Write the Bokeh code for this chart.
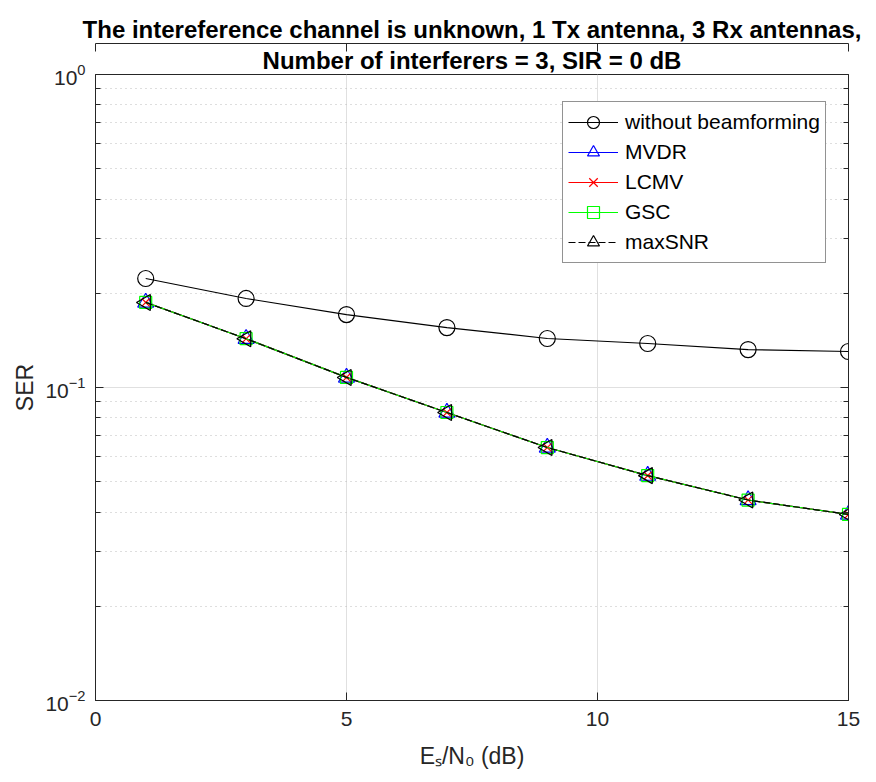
import math
from bokeh.plotting import figure
from bokeh.models import (LogAxis, LinearAxis, Legend, LegendItem, Title,
                          FixedTicker, LogTickFormatter, CustomJSTickFormatter, Range1d)
from bokeh.embed import file_html
from bokeh.resources import INLINE

# ---------------- data ----------------
snr_db = [1, 3, 5, 7, 9, 11, 13, 15]
ser_without_bf = [0.223, 0.1925, 0.171, 0.1554, 0.1434, 0.1382, 0.1322, 0.1303]
ser_mvdr = [0.187, 0.1432, 0.1077, 0.0832, 0.0643, 0.0523, 0.0437, 0.0393]
ser_lcmv = [0.187, 0.1432, 0.1077, 0.0832, 0.0643, 0.0523, 0.0437, 0.0393]
ser_gsc = [0.187, 0.1432, 0.1077, 0.0832, 0.0643, 0.0523, 0.0437, 0.0393]
ser_maxsnr = [0.187, 0.1432, 0.1077, 0.0832, 0.0643, 0.0523, 0.0437, 0.0393]
x_ticks = [0, 5, 10, 15]
y_decades = [-2, -1, 0]
title_lines = ["The intereference channel is unknown, 1 Tx antenna, 3 Rx antennas,",
               "Number of interferers = 3, SIR = 0 dB"]
series_names = ["without beamforming", "MVDR", "LCMV", "GSC", "maxSNR"]
x_label = "E\u209b/N\u2080 (dB)"
y_label = "SER"

y_major = [10.0 ** e for e in y_decades]
y_minor = [m * 10.0 ** e for e in y_decades[:-1] for m in range(2, 10)]

FONT = "Liberation Sans"
AX = "#262626"

p = figure(width=876, height=782, y_axis_type="log",
           x_range=Range1d(0, 15), y_range=Range1d(y_major[0], y_major[-1]),
           output_backend="svg", toolbar_location=None,
           min_border_left=95, min_border_right=28, min_border_top=74,
           min_border_bottom=82)
p.outline_line_color = AX
p.outline_line_width = 1

# titles (first added is nearest to the top edge)
p.title.text = title_lines[0]
p.title.align = "center"
p.title.text_font = FONT
p.title.text_font_size = "24px"
p.title.text_font_style = "bold"
p.title.text_color = "black"
p.title.standoff = 2
p.title.offset = -12
p.add_layout(Title(text=title_lines[1], align="center", text_font=FONT,
                   text_font_size="24px", text_font_style="bold",
                   text_color="black", standoff=2), "above")

# axes styling
for ax in (p.xaxis[0], p.yaxis[0]):
    ax.axis_line_color = AX
    ax.major_tick_line_color = AX
    ax.minor_tick_line_color = AX
    ax.major_tick_in = 8
    ax.major_tick_out = 0
    ax.minor_tick_in = 5
    ax.minor_tick_out = 0
    ax.major_label_text_font = FONT
    ax.major_label_text_font_size = "21px"
    ax.major_label_text_color = AX
    ax.axis_label_text_font = FONT
    ax.axis_label_text_font_style = "normal"
    ax.axis_label_text_font_size = "23px"
    ax.axis_label_text_color = AX

p.xaxis.ticker = FixedTicker(ticks=x_ticks, minor_ticks=[])
p.xaxis.major_label_standoff = 11
p.xaxis.axis_label = x_label
p.xaxis.axis_label_standoff = 14
p.yaxis.ticker = FixedTicker(ticks=y_major, minor_ticks=y_minor)
p.yaxis.formatter = LogTickFormatter()
p.yaxis.major_label_standoff = 10
p.yaxis.axis_label = y_label
p.yaxis.axis_label_standoff = 4

blank = CustomJSTickFormatter(code="return ''")
top = LinearAxis(ticker=FixedTicker(ticks=x_ticks, minor_ticks=[]), formatter=blank,
                 axis_line_color=AX, major_tick_line_color=AX, major_tick_in=8,
                 major_tick_out=0, minor_tick_out=0, major_label_standoff=0)
right = LogAxis(ticker=FixedTicker(ticks=y_major, minor_ticks=y_minor), formatter=blank,
                axis_line_color=AX, major_tick_line_color=AX, minor_tick_line_color=AX,
                major_tick_in=8, major_tick_out=0, minor_tick_in=5, minor_tick_out=0,
                major_label_standoff=0)
p.add_layout(top, "above")
p.add_layout(right, "right")

# grids
p.xgrid.ticker = FixedTicker(ticks=x_ticks, minor_ticks=[])
p.xgrid.grid_line_color = "#e0e0e0"
p.ygrid.ticker = FixedTicker(ticks=y_major, minor_ticks=y_minor)
p.ygrid.grid_line_color = "#e0e0e0"
p.ygrid.minor_grid_line_color = "#bcbcbc"
p.ygrid.minor_grid_line_dash = "1 4"
p.ygrid.minor_grid_line_width = 1

# ---------------- series ----------------
l0 = p.line(snr_db, ser_without_bf, line_color="black", line_width=1.2)
m0 = p.scatter(snr_db, ser_without_bf, marker="circle", size=16, fill_color=None,
               line_color="black", line_width=1.2)
l1 = p.line(snr_db, ser_mvdr, line_color="#0000ff", line_width=1.2)
m1 = p.scatter(snr_db, ser_mvdr, marker="triangle", size=16, fill_color=None,
               line_color="#0000ff", line_width=1.2)
l2 = p.line(snr_db, ser_lcmv, line_color="#ff0000", line_width=1.2)
m2 = p.scatter(snr_db, ser_lcmv, marker="x", size=11, line_color="#ff0000", line_width=1.2)
l3 = p.line(snr_db, ser_gsc, line_color="#00ff00", line_width=1.2)
m3 = p.scatter(snr_db, ser_gsc, marker="square", size=12, fill_color=None,
               line_color="#00ff00", line_width=1.2)
l4 = p.line(snr_db, ser_maxsnr, line_color="black", line_width=1.2, line_dash="7 3")
m4 = p.scatter(snr_db, ser_maxsnr, marker="triangle", size=16,
               fill_color=None, line_color="black", line_width=1.2)
m4.glyph.angle = math.pi / 2
m4.glyph.angle_units = "rad"

legend = Legend(items=[LegendItem(label=series_names[0], renderers=[l0, m0]),
                       LegendItem(label=series_names[1], renderers=[l1, m1]),
                       LegendItem(label=series_names[2], renderers=[l2, m2]),
                       LegendItem(label=series_names[3], renderers=[l3, m3]),
                       LegendItem(label=series_names[4], renderers=[l4, m4])],
                location=(467, 437))
legend.label_text_font = FONT
legend.label_text_font_size = "21px"
legend.label_text_color = "black"
legend.glyph_width = 50
legend.glyph_height = 30
legend.label_height = 30
legend.label_standoff = 7
legend.padding = 5
legend.spacing = 0
legend.margin = 0
legend.border_line_color = AX
legend.border_line_width = 1
legend.background_fill_alpha = 1
p.add_layout(legend, "center")

open("out.html", "w").write(file_html(p, INLINE))
